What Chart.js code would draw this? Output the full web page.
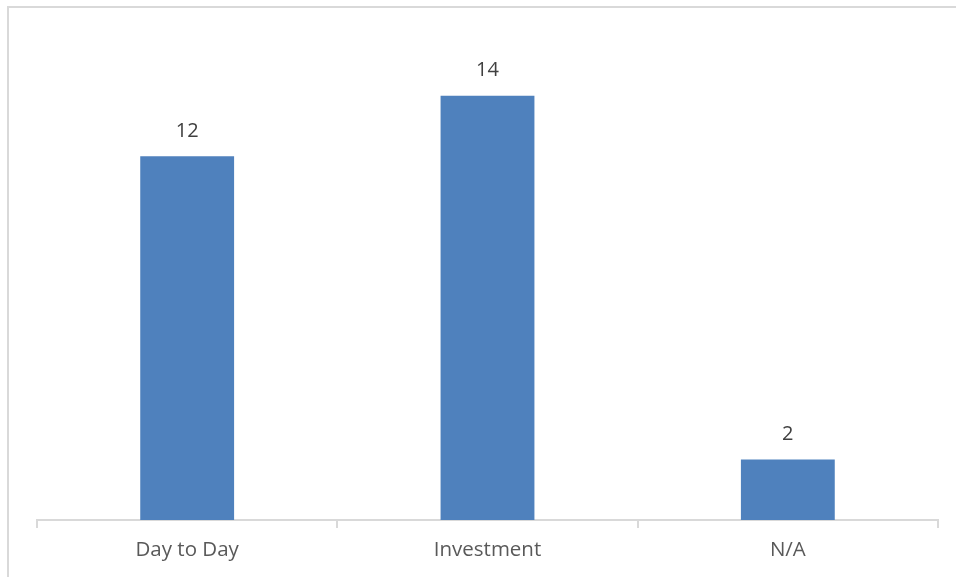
<!DOCTYPE html>
<html>
<head>
<meta charset="utf-8">
<script src="https://cdn.jsdelivr.net/npm/chart.js@4"></script>
<style>
    html, body { margin: 0; padding: 0; background: #fff; }
    #wrap { width: 956px; height: 577px; position: relative; }
</style>
</head>
<body>
<div id="wrap"><canvas id="barChart"></canvas></div>
<script>
// Chart data
var categories = ['Day to Day', 'Investment', 'N/A'];
var counts = [12, 14, 2];

// Outer frame (only left and top edges fall inside the picture)
var framePlugin = {
    id: 'frame',
    beforeDraw: function(chart) {
        var ctx = chart.ctx;
        ctx.save();
        ctx.strokeStyle = '#d9d9d9';
        ctx.lineWidth = 2;
        ctx.strokeRect(8, 7, 1000, 1000);
        ctx.restore();
    }
};

// Value labels above the bars
var valueLabels = {
    id: 'valueLabels',
    afterDatasetsDraw: function(chart) {
        var ctx = chart.ctx;
        ctx.save();
        ctx.fillStyle = '#404040';
        ctx.font = '20px "Open Sans", sans-serif';
        ctx.textAlign = 'center';
        ctx.textBaseline = 'middle';
        chart.getDatasetMeta(0).data.forEach(function(bar, i) {
            ctx.fillText(counts[i], bar.x, bar.y - 25);
        });
        ctx.restore();
    }
};

window.onload = function() {
    var ctx = document.getElementById('barChart').getContext('2d');
    new Chart(ctx, {
        type: 'bar',
        data: {
            labels: categories,
            datasets: [{
                data: counts,
                backgroundColor: '#4f81bd',
                barPercentage: 0.625,
                categoryPercentage: 0.5
            }]
        },
        options: {
            responsive: true,
            maintainAspectRatio: false,
            animation: false,
            layout: { padding: { left: 37, right: 18, top: 35, bottom: 0 } },
            plugins: {
                legend: { display: false },
                tooltip: { enabled: false }
            },
            scales: {
                x: {
                    grid: {
                        offset: true,
                        drawOnChartArea: false,
                        drawTicks: true,
                        tickLength: 8,
                        color: '#d9d9d9',
                        lineWidth: 2
                    },
                    border: { display: true, color: '#d9d9d9', width: 2 },
                    ticks: {
                        color: '#595959',
                        padding: 10,
                        font: { family: '"Open Sans", sans-serif', size: 20.5 }
                    },
                    afterFit: function(scale) { scale.height = 57; }
                },
                y: {
                    display: false,
                    min: 0,
                    max: 16
                }
            }
        },
        plugins: [framePlugin, valueLabels]
    });
};
</script>
</body>
</html>
